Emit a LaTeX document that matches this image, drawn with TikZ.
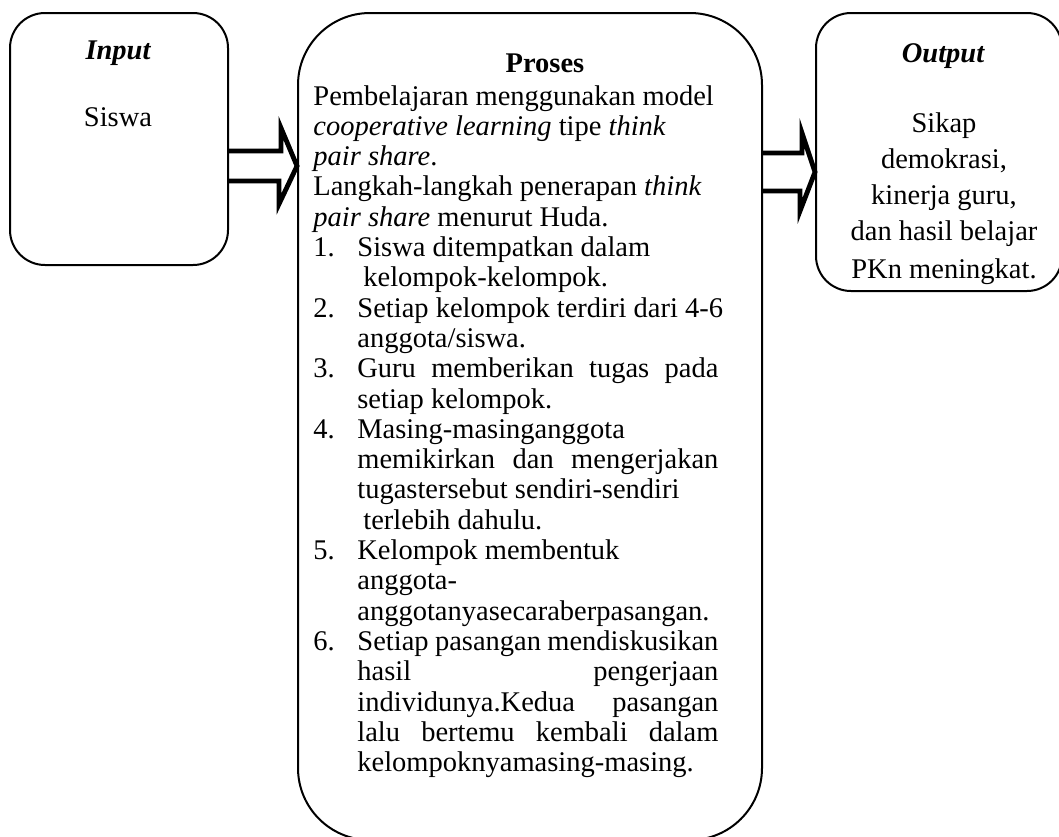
\documentclass[tikz,border=0pt]{standalone}
\usepackage{fontspec}
\setmainfont{Liberation Serif}
\usetikzlibrary{calc}
\newcommand\myfont{\fontsize{14.25pt}{15pt}\selectfont}
\newcommand\jl[1]{\makebox[180.5pt][s]{#1}}
\begin{document}
\begin{tikzpicture}[x=0.5pt,y=-0.5pt,
  box/.style={draw=black, line width=1pt, inner sep=0pt},
  arr/.style={draw=black, line width=2.4pt, line join=miter},
  txt/.style={anchor=base west, inner sep=0pt, font=\myfont},
  ctxt/.style={anchor=base, inner sep=0pt, font=\myfont}]
\useasboundingbox (0,0) rectangle (1059,836);
\begin{scope}
\clip (0,0) rectangle (1059,836);
% boxes
\node[box, rounded corners=17.5pt, minimum width=109pt, minimum height=126pt] (input) at (119,139) {};
\node[box, rounded corners=36pt, minimum width=232pt, minimum height=413.5pt] (proses) at (530,426.5) {};
\node[box, rounded corners=17.5pt, minimum width=123pt, minimum height=139pt] (output) at (939,152) {};
% output text clipped to the text area of the box
\begin{scope}
\clip (output.north west) rectangle ([yshift=2pt]output.south east);
\node[ctxt, font=\myfont\bfseries\itshape] (outlbl) at (943,62) {Output};
\node[ctxt] (o1) at (944,132) {Sikap};
\node[ctxt] (o2) at (944,168) {demokrasi,};
\node[ctxt] (o3) at (944,204) {kinerja guru,};
\node[ctxt] (o4) at (944,240) {dan hasil belajar};
\node[ctxt] (o5) at (944,278) {PKn meningkat.};
\end{scope}
\end{scope}
% arrows
\path (input.east) ++(0,27) coordinate (a1c);
\draw[arr] (a1c) ++(0,-15) -- ++(52,0) -- ++(0,-23) -- (proses.west |- a1c) -- ++(-18,38) -- ++(0,-23) -- ++(-52,0);
\path (proses.east |- 0,172) coordinate (a2c);
\draw[arr] (a2c) ++(0,-19) -- ++(39,0) -- ++(0,-20) -- (output.west |- a2c) -- ++(-15,39) -- ++(0,-20) -- ++(-39,0);
% input text
\node[ctxt, font=\myfont\bfseries\itshape] (inlbl) at (118,59) {Input};
\node[ctxt] (insiswa) at (118,126) {Siswa};
% proses text
\node[ctxt, font=\myfont\bfseries] (prlbl) at (545,72) {Proses};
\node[txt] (p0) at (313,105) {Pembelajaran menggunakan model};
\node[txt] (p1) at (313,135.3) {\textit{cooperative learning} tipe \textit{think}};
\node[txt] (p2) at (313,165.6) {\textit{pair share}.};
\node[txt] (p3) at (313,195.9) {Langkah-langkah penerapan \textit{think}};
\node[txt] (p4) at (313,226.2) {\textit{pair share} menurut Huda.};
\node[txt] (n1) at (313,256.5) {1.};
\node[txt] (p5) at (357,256.5) {Siswa ditempatkan dalam};
\node[txt] (p6) at (363,286.8) {kelompok-kelompok.};
\node[txt] (n2) at (313,317.1) {2.};
\node[txt] (p7) at (357,317.1) {Setiap kelompok terdiri dari 4-6};
\node[txt] (p8) at (357,347.4) {anggota/siswa.};
\node[txt] (n3) at (313,377.7) {3.};
\node[txt] (p9) at (357,377.7) {\jl{Guru memberikan tugas pada}};
\node[txt] (p10) at (357,408) {setiap kelompok.};
\node[txt] (n4) at (313,438.3) {4.};
\node[txt] (p11) at (357,438.3) {Masing-masinganggota};
\node[txt] (p12) at (357,468.6) {\jl{memikirkan dan mengerjakan}};
\node[txt] (p13) at (357,498.9) {tugastersebut sendiri-sendiri};
\node[txt] (p14) at (363,529.2) {terlebih dahulu.};
\node[txt] (n5) at (313,559.5) {5.};
\node[txt] (p15) at (357,559.5) {Kelompok membentuk};
\node[txt] (p16) at (357,589.8) {anggota-};
\node[txt] (p17) at (357,620.1) {anggotanyasecaraberpasangan.};
\node[txt] (n6) at (313,650.4) {6.};
\node[txt] (p18) at (357,650.4) {\jl{Setiap pasangan mendiskusikan}};
\node[txt] (p19) at (357,680.7) {\jl{hasil pengerjaan}};
\node[txt] (p20) at (357,711) {\jl{individunya.Kedua pasangan}};
\node[txt] (p21) at (357,741.3) {\jl{lalu bertemu kembali dalam}};
\node[txt] (p22) at (357,771.6) {kelompoknyamasing-masing.};
\end{tikzpicture}
\end{document}
